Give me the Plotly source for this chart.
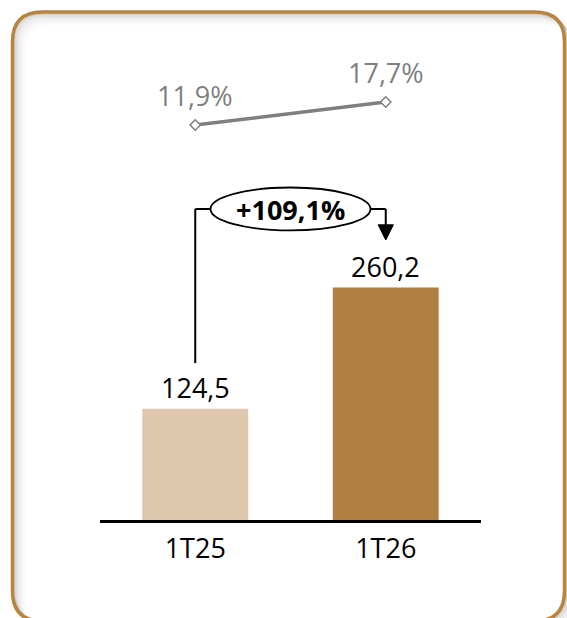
import plotly.graph_objects as go

# ---- data ----
categories = ["1T25", "1T26"]
values = [124.5, 260.2]
margins = [11.9, 17.7]
growth_label = "+109,1%"
bar_colors = ["#DEC7AC", "#B27F42"]

W, H = 567, 618
FONT = "Open Sans"

def px(x):
    return x / W

def py(y):
    return 1 - y / H

def rrect(x0, y0, x1, y1, r):
    pts = [
        f"M {px(x0 + r)},{py(y0)}",
        f"L {px(x1 - r)},{py(y0)}",
        f"Q {px(x1)},{py(y0)} {px(x1)},{py(y0 + r)}",
        f"L {px(x1)},{py(y1 - r)}",
        f"Q {px(x1)},{py(y1)} {px(x1 - r)},{py(y1)}",
        f"L {px(x0 + r)},{py(y1)}",
        f"Q {px(x0)},{py(y1)} {px(x0)},{py(y1 - r)}",
        f"L {px(x0)},{py(y0 + r)}",
        f"Q {px(x0)},{py(y0)} {px(x0 + r)},{py(y0)}",
        "Z",
    ]
    return " ".join(pts)

# plot geometry (pixels)
axis_y = 520
plot_top = 40
bar_scale = 0.894  # px per unit
y_top = (axis_y - plot_top) / bar_scale

line_scale = 3.966
line_zero = 172.2
y2_bottom = -(axis_y - line_zero) / line_scale
y2_top = (line_zero - plot_top) / line_scale

fig = go.Figure()

fig.add_trace(go.Bar(
    x=[0, 1], y=values, width=0.556,
    marker=dict(color=bar_colors, line=dict(width=0)),
    hoverinfo="skip",
))

fig.add_trace(go.Scatter(
    x=[0, 1], y=margins, yaxis="y2", mode="lines+markers",
    line=dict(color="#7F7F7F", width=3.5),
    marker=dict(symbol="diamond", size=8, color="white",
                line=dict(color="#7F7F7F", width=1.5)),
    hoverinfo="skip",
))

annotations = []
for i, v in enumerate(values):
    annotations.append(dict(
        x=i, y=v, xref="x", yref="y", text=f"{v:.1f}".replace(".", ","),
        showarrow=False, yanchor="middle", yshift=21,
        font=dict(family=FONT, size=27, color="black"),
    ))
for i, m in enumerate(margins):
    annotations.append(dict(
        x=i, y=m, xref="x", yref="y2", text=f"{m:.1f}%".replace(".", ","),
        showarrow=False, yanchor="middle", yshift=29.5,
        font=dict(family=FONT, size=27, color="#7F7F7F"),
    ))

# bracket geometry in data units
level = max(values) + 87.7
left_start = values[0] + 51
ell_half_w = 0.42
ell_half_h = 24
arrow_base = values[1] + 70
arrow_tip = values[1] + 53

annotations.append(dict(
    x=0.5, y=level, xref="x", yref="y", text=f"<b>{growth_label}</b>",
    showarrow=False, yanchor="middle", yshift=-1,
    font=dict(family=FONT, size=27, color="black"),
))

shapes = []
# shadow
for k, op in [(1.5, 0.20), (3, 0.14), (4.5, 0.10), (6, 0.07), (7.5, 0.05), (9, 0.035), (10.5, 0.025), (12, 0.015)]:
    shapes.append(dict(type="path", xref="paper", yref="paper",
                       path=rrect(12.5 + k, 12 + k, 564.5 + k, 621 + k, 30),
                       line=dict(color=f"rgba(110,110,110,{op})", width=3),
                       layer="below"))
# border
shapes.append(dict(type="path", xref="paper", yref="paper",
                   path=rrect(12.5, 12, 564.5, 621, 30),
                   line=dict(color="#B8843F", width=3.5), layer="above"))

blk = dict(color="black", width=2)
shapes += [
    dict(type="line", xref="x", yref="y", x0=0, x1=0, y0=left_start, y1=level, line=blk),
    dict(type="line", xref="x", yref="y", x0=0, x1=0.5 - ell_half_w, y0=level, y1=level, line=blk),
    dict(type="line", xref="x", yref="y", x0=0.5 + ell_half_w, x1=1, y0=level, y1=level, line=blk),
    dict(type="line", xref="x", yref="y", x0=1, x1=1, y0=level, y1=arrow_base, line=blk),
    dict(type="circle", xref="x", yref="y", x0=0.5 - ell_half_w, x1=0.5 + ell_half_w,
         y0=level - ell_half_h, y1=level + ell_half_h,
         line=dict(color="black", width=1.8), fillcolor="white"),
    dict(type="path", xref="x", yref="y",
         path=f"M {1 - 0.04},{arrow_base} L {1 + 0.04},{arrow_base} L 1,{arrow_tip} Z",
         fillcolor="black", line=dict(color="black", width=1)),
]

fig.update_layout(
    width=W, height=H,
    margin=dict(l=0, r=0, t=0, b=0),
    paper_bgcolor="white", plot_bgcolor="rgba(0,0,0,0)",
    showlegend=False,
    font=dict(family=FONT, color="black"),
    xaxis=dict(domain=[px(100), px(481)], range=[-0.5, 1.5],
               tickvals=[0, 1], ticktext=categories, showline=True,
               linecolor="black", linewidth=2.5, ticks="", showgrid=False,
               zeroline=False, tickfont=dict(family=FONT, size=27, color="black"),
               ticklabelstandoff=3, fixedrange=True),
    yaxis=dict(domain=[py(axis_y), py(plot_top)], range=[0, y_top],
               visible=False, fixedrange=True),
    yaxis2=dict(domain=[py(axis_y), py(plot_top)], overlaying="y",
                range=[y2_bottom, y2_top], visible=False, fixedrange=True),
    annotations=annotations,
    shapes=shapes,
)

fig.write_html("out.html")
